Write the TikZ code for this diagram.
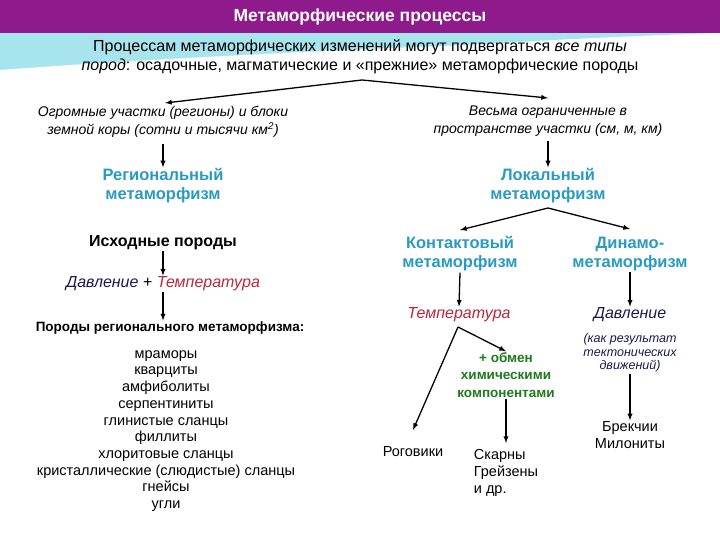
\documentclass[tikz,border=0pt]{standalone}
\usepackage{fontspec}
\setmainfont{Liberation Sans}
\definecolor{purp}{HTML}{8E1A8C}
\definecolor{teal1}{HTML}{2A9BC0}
\definecolor{redt}{HTML}{B8283C}
\definecolor{navy}{HTML}{1A1A50}
\definecolor{grn}{HTML}{1E7A1E}
\definecolor{swoosh}{HTML}{A8E4EE}
\begin{document}
\begin{tikzpicture}[x=1pt,y=-1pt,
  t/.style={align=center,inner sep=1pt,font=\fontsize{16}{19}\selectfont},
  it/.style={align=center,inner sep=1pt,font=\fontsize{14}{18}\selectfont\itshape},
  hd/.style={align=center,inner sep=1pt,text=teal1,font=\fontsize{16.5}{19}\selectfont\bfseries},
  ls/.style={align=center,inner sep=1pt,font=\fontsize{14.5}{16.7}\selectfont},
  ar/.style={-latex,line width=1.3pt}]
\useasboundingbox (0,0) rectangle (720,540);
\fill[white] (0,0) rectangle (720,540);
\fill[swoosh] (0,33) -- (720,33) .. controls (500,40) and (150,60) .. (0,110) -- cycle;
\fill[white] (0,70) .. controls (200,55) and (500,42) .. (720,37) -- (720,540) -- (0,540) -- cycle;
\fill[purp] (0,0) rectangle (720,33);
\node[text=white,font=\fontsize{17.5}{19}\selectfont\bfseries] (title) at (360,17) {Метаморфические процессы};
\node[t] (intro) at (360,57) {Процессам метаморфических изменений могут подвергаться \textit{все типы}\\\textit{пород}: осадочные, магматические и «прежние» метаморфические породы};
\coordinate (apex) at (362,80);
\node[it] (lt) at (163,122) {Огромные участки (регионы) и блоки\\земной коры (сотни и тысячи км\textsuperscript{2})};
\node[it] (rt) at (548,121) {Весьма ограниченные в\\пространстве участки (см, м, км)};
\draw[ar] (apex) -- (165,103);
\draw[ar] (apex) -- (548,98);
\node[hd] (reg) at (163,186) {Региональный\\метаморфизм};
\node[hd] (loc) at (548,186) {Локальный\\метаморфизм};
\draw[ar] (163,144) -- (reg.north);
\draw[ar] (548,141) -- (loc.north);
\node[hd] (con) at (460,254) {Контактовый\\метаморфизм};
\node[hd] (din) at (630,254) {Динамо-\\метаморфизм};
\coordinate (la) at (548,208);
\draw[ar] (la) -- (460,230);
\draw[ar] (la) -- (630,229);
\node[t,font=\fontsize{16}{19}\selectfont\bfseries] (isx) at (163,243) {Исходные породы};
\node[t,font=\fontsize{16}{19}\selectfont\itshape] (pt) at (163,284) {\textcolor{navy}{Давление} + \textcolor{redt}{Температура}};
\node[t,font=\fontsize{13.5}{15}\selectfont\bfseries] (prm) at (170,328) {Породы регионального метаморфизма:};
\draw[ar] (isx.south) -- (pt.north);
\draw[ar] (pt.south) -- (pt.south |- prm.north);
\node[ls] (list) at (166,431) {мраморы\\кварциты\\амфиболиты\\серпентиниты\\глинистые сланцы\\филлиты\\хлоритовые сланцы\\кристаллические (слюдистые) сланцы\\гнейсы\\угли};
\node[t,font=\fontsize{16}{19}\selectfont\itshape,text=redt] (temp) at (459,315) {Температура};
\node[t,font=\fontsize{16}{19}\selectfont\itshape,text=navy] (dav) at (630,315) {Давление};
\draw[ar] (con.south) -- (temp.north);
\draw[ar] (din.south) -- (dav.north);
\node[it,font=\fontsize{12.5}{13.5}\selectfont\itshape,text=navy] (kak) at (630,353) {(как результат\\тектонических\\движений)};
\node[t,font=\fontsize{13.5}{17.5}\selectfont\bfseries,text=grn] (obm) at (506,375) {+ обмен\\химическими\\компонентами};
\coordinate (ta) at (458,327);
\node[ls] (rog) at (413,452) {Роговики};
\node[ls,align=left] (sk) at (506,473) {Скарны\\Грейзены\\и др.};
\draw[ar] (ta) -- (413,430);
\draw[ar] (ta) -- (obm.north);
\draw[ar] (obm.south) -- (506,443);
\node[ls] (br) at (630,435) {Брекчии\\Милониты};
\draw[ar] (kak.south) -- (br.north);
\end{tikzpicture}
\end{document}
